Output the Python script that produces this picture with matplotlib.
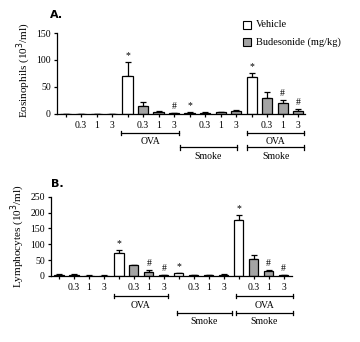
import numpy as np
import matplotlib.pyplot as plt
from matplotlib.patches import Rectangle
import matplotlib.transforms as mtransforms

plt.rcParams['font.family'] = ['Liberation Serif', 'DejaVu Serif']

# 4 groups (control, OVA, smoke, OVA+smoke) x (vehicle, 0.3, 1, 3 mg/kg)
dose_labels = ['', '0.3', '1', '3'] * 4
is_vehicle = [True, False, False, False] * 4

eos_mean = [0, 0, 0, 0, 70, 15, 4, 1, 2, 2.5, 3, 6, 68, 30, 20, 6]
eos_err = [0, 0, 0, 0, 26, 7, 2, 0.5, 1, 0.5, 1, 0.5, 8, 11, 6, 3]
eos_marks = {4: '*', 7: '#', 8: '*', 12: '*', 14: '#', 15: '#'}

lym_mean = [3, 3, 1, 1, 72, 34, 12, 2, 8, 3, 2, 4, 175, 53, 16, 3]
lym_err = [2, 2, 1, 1, 9, 2, 7, 2, 1, 1, 1, 2, 18, 12, 4, 1]
lym_marks = {4: '*', 6: '#', 7: '#', 8: '*', 12: '*', 14: '#', 15: '#'}

GREY = '#a3a3a3'
FS = 7


def bracket(ax, x0, x1, y, text, ty):
    tr = mtransforms.blended_transform_factory(ax.transData, ax.transAxes)
    ax.plot([x0, x1], [y, y], color='black', lw=0.9, transform=tr, clip_on=False)
    for xe in (x0, x1):
        ax.plot([xe, xe], [y - 0.03, y + 0.03], color='black', lw=0.9,
                transform=tr, clip_on=False)
    ax.text((x0 + x1) / 2, ty, text, transform=tr, ha='center', va='center',
            fontsize=FS)


def panel(ax, mean, err, marks, ymax, ystep, ylabel, width, brackets):
    x = np.arange(len(mean))
    colors = ['white' if v else GREY for v in is_vehicle]
    ax.bar(x, mean, width=width, color=colors, edgecolor='black', lw=0.9, zorder=2)
    ax.errorbar(x, mean, yerr=[np.zeros(len(err)), err], fmt='none',
                ecolor='black', elinewidth=0.9, capsize=2, capthick=0.9, zorder=1)
    for i, m in marks.items():
        ax.annotate(m, (x[i], mean[i] + err[i]), xytext=(0, 1.5),
                    textcoords='offset points', ha='center', va='bottom', fontsize=FS)
    ax.set_ylim(0, ymax)
    ax.set_yticks(np.arange(0, ymax + 1, ystep))
    ax.set_xticks(x)
    ax.set_xticklabels(dose_labels)
    ax.tick_params(axis='both', labelsize=FS, length=2.5, width=0.9, pad=2)
    ax.tick_params(axis='x', length=2, pad=3)
    for s in ('top', 'right'):
        ax.spines[s].set_visible(False)
    for s in ('left', 'bottom'):
        ax.spines[s].set_linewidth(0.9)
    ax.set_ylabel(ylabel, fontsize=8)
    for b in brackets:
        bracket(ax, *b)


fig = plt.figure(figsize=(3.6, 3.42), dpi=100)

axA = fig.add_axes([0.1583, 0.6667, 0.689, 0.2368])
axA.set_xlim(-0.55, 15.45)
panel(axA, eos_mean, eos_err, eos_marks, 150, 50, 'Eosinophils (10$^3$/ml)', 0.65,
      [(3.6, 7.3, -0.235, 'OVA', -0.335),
       (7.4, 11.05, -0.41, 'Smoke', -0.52),
       (11.7, 15.4, -0.235, 'OVA', -0.335),
       (11.7, 15.4, -0.41, 'Smoke', -0.52)])
axA.yaxis.set_label_coords(-0.095, 0.54)

axB = fig.add_axes([0.1417, 0.193, 0.669, 0.232])
axB.set_xlim(-0.53, 15.55)
panel(axB, lym_mean, lym_err, lym_marks, 250, 50, 'Lymphocytes (10$^3$/ml)', 0.62,
      [(3.67, 7.27, -0.252, 'OVA', -0.37),
       (7.87, 11.53, -0.467, 'Smoke', -0.57),
       (11.8, 15.6, -0.252, 'OVA', -0.37),
       (11.8, 15.6, -0.467, 'Smoke', -0.57)])
axB.yaxis.set_label_coords(-0.1, 0.5)

fig.text(50 / 360, 1 - 15 / 342, 'A.', family='DejaVu Sans', fontweight='bold',
         fontsize=8, ha='left', va='center')
fig.text(51 / 360, 1 - 184 / 342, 'B.', family='DejaVu Sans', fontweight='bold',
         fontsize=8, ha='left', va='center')

# legend boxes
for y0, fc, txt in [(20.5, 'white', 'Vehicle'), (37.7, GREY, 'Budesonide (mg/kg)')]:
    fig.patches.append(Rectangle((243 / 360, 1 - (y0 + 8) / 342), 7.5 / 360, 8 / 342,
                                 transform=fig.transFigure, facecolor=fc,
                                 edgecolor='black', lw=0.8))
    fig.text(256 / 360, 1 - (y0 + 4) / 342, txt, fontsize=7.5, ha='left', va='center')

fig.savefig('out.png', dpi=100)
